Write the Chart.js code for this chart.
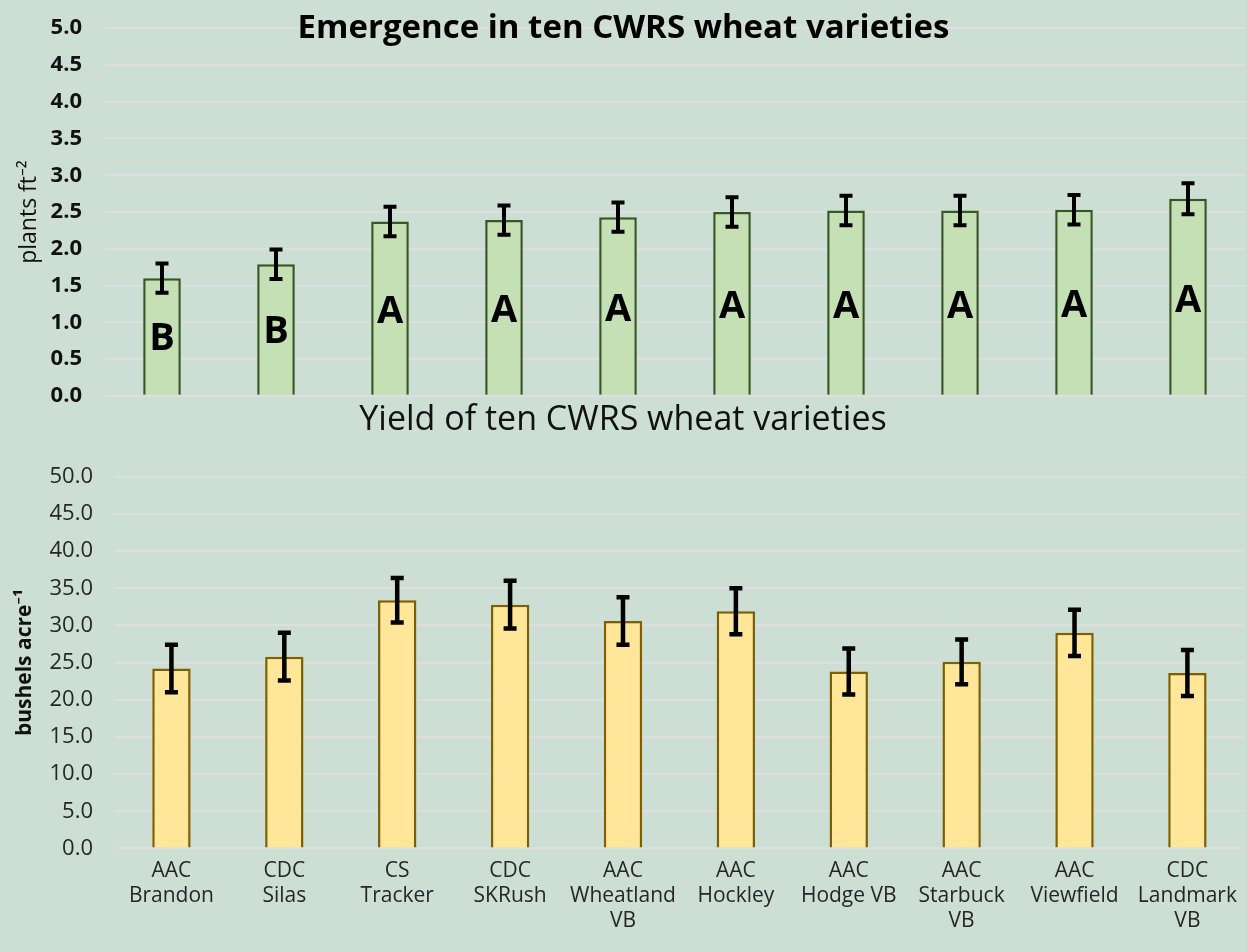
<!DOCTYPE html>
<html>
<head>
<meta charset="utf-8">
<script src="https://cdn.jsdelivr.net/npm/chart.js@4.4.1/dist/chart.umd.min.js"></script>
<style>
  html, body { margin: 0; padding: 0; background: #cddfd4; overflow: hidden; }
  #wrap { position: relative; width: 1247px; height: 952px; background: #cddfd4; overflow: hidden; }
  canvas { position: absolute; left: 0; display: block; }
  /* y tick padding also pads the plot area, so the top canvas starts a little above the page */
  #emergence { top: -8px; }
  #yield { top: 400px; }
</style>
</head>
<body>
<div id="wrap">
  <canvas id="emergence" width="1247" height="440"></canvas>
  <canvas id="yield" width="1247" height="552"></canvas>
</div>
<script>
const varieties = [
  ['AAC', 'Brandon'], ['CDC', 'Silas'], ['CS', 'Tracker'], ['CDC', 'SKRush'],
  ['AAC', 'Wheatland', 'VB'], ['AAC', 'Hockley'], ['AAC', 'Hodge VB'],
  ['AAC', 'Starbuck', 'VB'], ['AAC', 'Viewfield'], ['CDC', 'Landmark', 'VB']
]
// plants per sq ft
const emergence = [1.60, 1.79, 2.37, 2.39, 2.43, 2.50, 2.52, 2.52, 2.53, 2.68]
const emergenceErr = [0.20, 0.20, 0.20, 0.20, 0.20, 0.20, 0.20, 0.20, 0.20, 0.21]
const emergenceGroups = ['B', 'B', 'A', 'A', 'A', 'A', 'A', 'A', 'A', 'A']
// bushels per acre
const yieldValues = [24.2, 25.8, 33.4, 32.8, 30.6, 31.9, 23.8, 25.1, 29.0, 23.6]
const yieldErr = [3.2, 3.2, 3.0, 3.2, 3.2, 3.1, 3.1, 3.0, 3.1, 3.1]

const emergenceTicks = { min: 0, max: 5, step: 0.5 }
const yieldTicks = { min: 0, max: 50, step: 5 }

const FONT = "'Open Sans', 'Noto Sans', sans-serif"
const GRID = '#dedede'

const errorBars = {
  id: 'errorBars',
  afterDatasetsDraw(chart, args, opts) {
    const { ctx } = chart
    const y = chart.scales.y
    const values = chart.data.datasets[0].data
    ctx.save()
    ctx.strokeStyle = '#000'
    ctx.lineWidth = opts.width
    chart.getDatasetMeta(0).data.forEach((bar, i) => {
      const top = y.getPixelForValue(values[i] + opts.errors[i])
      const bottom = y.getPixelForValue(values[i] - opts.errors[i])
      ctx.beginPath()
      ctx.moveTo(bar.x, top)
      ctx.lineTo(bar.x, bottom)
      ctx.moveTo(bar.x - opts.cap, top)
      ctx.lineTo(bar.x + opts.cap, top)
      ctx.moveTo(bar.x - opts.cap, bottom)
      ctx.lineTo(bar.x + opts.cap, bottom)
      ctx.stroke()
    })
    ctx.restore()
  }
}

const groupLetters = {
  id: 'groupLetters',
  afterDatasetsDraw(chart, args, opts) {
    if (!opts.letters) return
    const { ctx } = chart
    const y = chart.scales.y
    const values = chart.data.datasets[0].data
    ctx.save()
    ctx.fillStyle = '#000'
    ctx.font = 'bold 38px ' + FONT
    ctx.textAlign = 'center'
    ctx.textBaseline = 'middle'
    chart.getDatasetMeta(0).data.forEach((bar, i) => {
      ctx.fillText(opts.letters[i], bar.x, y.getPixelForValue(values[i] * 0.48))
    })
    ctx.restore()
  }
}

// the top title sits over the plot area, so draw it by hand
const overlayTitle = {
  id: 'overlayTitle',
  afterDraw(chart, args, opts) {
    if (!opts.text) return
    const { ctx } = chart
    ctx.save()
    ctx.fillStyle = '#000'
    ctx.font = 'bold 33px ' + FONT
    ctx.textAlign = 'center'
    ctx.textBaseline = 'middle'
    ctx.fillText(opts.text, chart.width / 2, chart.chartArea.top)
    ctx.restore()
  }
}

new Chart(document.getElementById('emergence'), {
  type: 'bar',
  data: {
    labels: varieties,
    datasets: [{
      data: emergence,
      backgroundColor: '#c5e0b4',
      borderColor: '#385723',
      borderWidth: 2.5,
      barPercentage: 0.33,
      categoryPercentage: 1
    }]
  },
  options: {
    responsive: false,
    animation: false,
    devicePixelRatio: 1,
    layout: { padding: { top: 0, right: 2, bottom: 0, left: 0 } },
    plugins: {
      legend: { display: false },
      tooltip: { enabled: false },
      errorBars: { errors: emergenceErr, width: 4, cap: 6.5 },
      groupLetters: { letters: emergenceGroups },
      overlayTitle: { text: 'Emergence in ten CWRS wheat varieties' }
    },
    scales: {
      x: { display: false },
      y: {
        min: emergenceTicks.min,
        max: emergenceTicks.max,
        afterFit: scale => { scale.width = 105 },
        ticks: {
          stepSize: emergenceTicks.step,
          padding: 23,
          color: '#111',
          font: { family: FONT, size: 22, weight: 'bold' },
          callback: v => v.toFixed(1)
        },
        grid: { color: GRID, lineWidth: 2, drawTicks: false },
        border: { display: false },
        title: {
          display: true,
          text: 'plants ft⁻²',
          color: '#111',
          font: { family: FONT, size: 23 },
          padding: { top: 16, bottom: 0 }
        }
      }
    }
  },
  plugins: [errorBars, groupLetters, overlayTitle]
})

new Chart(document.getElementById('yield'), {
  type: 'bar',
  data: {
    labels: varieties,
    datasets: [{
      data: yieldValues,
      backgroundColor: '#ffe699',
      borderColor: '#7f6000',
      borderWidth: 2.5,
      barPercentage: 0.34,
      categoryPercentage: 1
    }]
  },
  options: {
    responsive: false,
    animation: false,
    devicePixelRatio: 1,
    layout: { padding: { top: 0, right: 1, bottom: 8, left: 0 } },
    plugins: {
      legend: { display: false },
      tooltip: { enabled: false },
      title: {
        display: true,
        text: 'Yield of ten CWRS wheat varieties',
        color: '#111',
        font: { family: FONT, size: 34, weight: 'normal' },
        padding: { top: 0, bottom: 36 }
      },
      errorBars: { errors: yieldErr, width: 4.5, cap: 6.5 }
    },
    scales: {
      x: {
        grid: { display: false, drawTicks: false },
        border: { display: false },
        ticks: {
          color: '#262626',
          padding: 10,
          maxRotation: 0,
          autoSkip: false,
          font: { family: FONT, size: 21, lineHeight: 1.2 }
        }
      },
      y: {
        min: yieldTicks.min,
        max: yieldTicks.max,
        afterFit: scale => { scale.width = 115 },
        ticks: {
          stepSize: yieldTicks.step,
          padding: 22,
          color: '#262626',
          font: { family: FONT, size: 22 },
          callback: v => v.toFixed(1)
        },
        grid: { color: GRID, lineWidth: 2, drawTicks: false },
        border: { display: false },
        title: {
          display: true,
          text: 'bushels acre⁻¹',
          color: '#111',
          font: { family: FONT, size: 21, weight: 'bold' },
          padding: { top: 12, bottom: 0 }
        }
      }
    }
  },
  plugins: [errorBars]
})
</script>
</body>
</html>
